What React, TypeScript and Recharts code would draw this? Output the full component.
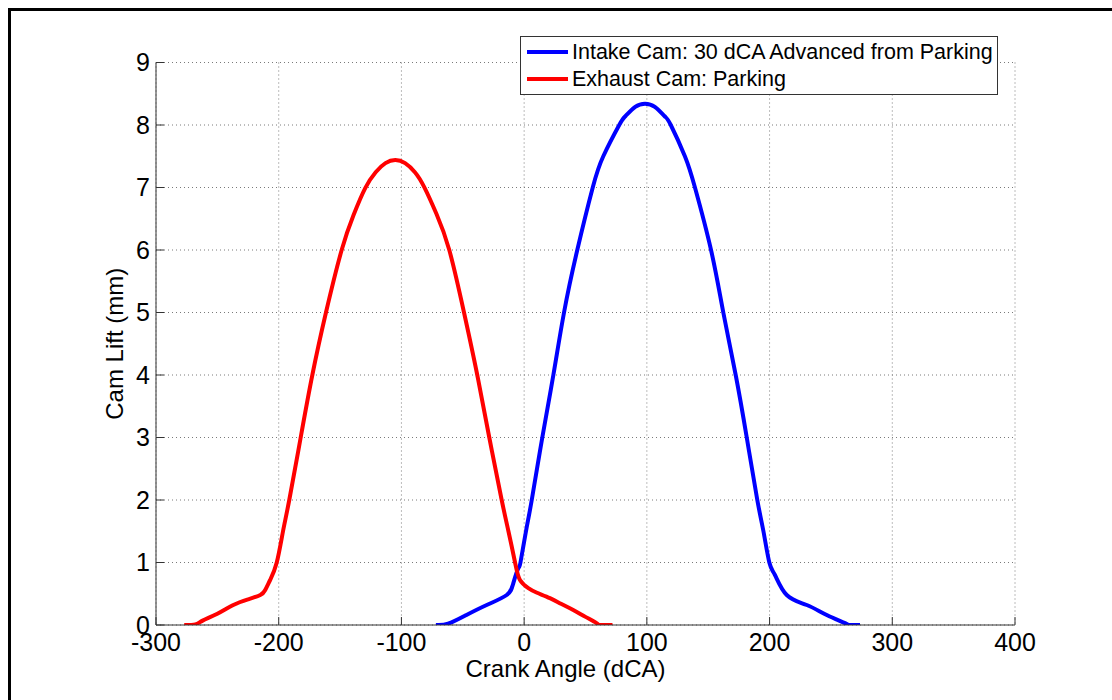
import React from 'react';
import { LineChart, Line, XAxis, YAxis, CartesianGrid, Legend } from 'recharts';

const intakeAngle = [-72, -62, -47, -30.5, -14.2, -8.8, -4.7, -3, 1.5, 6.2, 14.8, 23.8, 32.5, 43.3, 55.9, 64.5, 77.5, 82.5, 90.5, 98.5, 106.5, 114.5, 119.5, 131, 139.2, 152.3, 162.3, 172.4, 181.4, 190, 195, 199.8, 204.4, 214, 230.3, 246.6, 261.5, 265, 273.7];
const intakeLift = [0, 0.02, 0.16, 0.32, 0.48, 0.67, 0.91, 1, 1.5, 2, 3, 4, 5, 6, 7, 7.5, 8, 8.14, 8.29, 8.34, 8.29, 8.14, 8, 7.5, 7, 6, 5, 4, 3, 2, 1.5, 1, 0.8, 0.48, 0.32, 0.16, 0.03, 0, 0];

const exhaustAngle = [-277, -268, -262, -250, -237, -225, -215, -211, -207, -201.6, -196.5, -191.4, -182.1, -172.6, -161.5, -148.7, -139, -129.5, -121, -113, -105, -97, -89, -81.5, -71.5, -61, -49, -38.2, -28.4, -18.3, -12.8, -7.4, -3.4, 3.4, 10, 21, 30, 40, 50, 59, 62, 72];
const exhaustLift = [0, 0.01, 0.07, 0.18, 0.32, 0.41, 0.48, 0.56, 0.72, 1, 1.5, 2, 3, 4, 5, 6, 6.56, 6.99, 7.245, 7.39, 7.44, 7.39, 7.245, 7.01, 6.58, 6, 5, 4, 3, 2, 1.5, 1, 0.72, 0.59, 0.52, 0.43, 0.34, 0.24, 0.13, 0.03, 0, 0];

const xTicks = [-300, -200, -100, 0, 100, 200, 300, 400];
const yTicks = [0, 1, 2, 3, 4, 5, 6, 7, 8, 9];
const seriesNames = ['Intake Cam: 30 dCA Advanced from Parking', 'Exhaust Cam: Parking'];
const seriesColors = ['#0000ff', '#ff0000'];
const xLabel = 'Crank Angle (dCA)';
const yLabel = 'Cam Lift (mm)';

const intakeData = intakeAngle.map((x, i) => ({ x, y: intakeLift[i] }));
const exhaustData = exhaustAngle.map((x, i) => ({ x, y: exhaustLift[i] }));

const FONT = '"Liberation Sans", Arial, Helvetica, sans-serif';
const AXIS = '#333333';

const XLabelContent = (props: any) => {
  const vb = props.viewBox || {};
  return (
    <text x={vb.x + vb.width / 2 - 20} y={vb.y + 52} textAnchor="middle" fontFamily={FONT} fontSize={24} fill="#000">
      {xLabel}
    </text>
  );
};

const YLabelContent = (props: any) => {
  const vb = props.viewBox || {};
  const cx = vb.x + vb.width - 33;
  const cy = vb.y + vb.height / 2;
  return (
    <text x={cx} y={cy} transform={`rotate(-90 ${cx} ${cy})`} textAnchor="middle" fontFamily={FONT} fontSize={24} fill="#000">
      {yLabel}
    </text>
  );
};

const renderLegend = () => (
  <div
    style={{
      position: 'relative',
      boxSizing: 'border-box',
      width: 478,
      height: 59,
      border: '1px solid #333',
      background: '#fff',
      fontFamily: FONT,
      fontSize: 21.5,
      color: '#000',
    }}
  >
    {seriesNames.map((name, i) => (
      <div
        key={name}
        style={{
          position: 'absolute',
          left: 6,
          top: 2 + i * 26.6,
          height: 26.6,
          display: 'flex',
          alignItems: 'center',
          whiteSpace: 'nowrap',
        }}
      >
        <svg width={41} height={6} style={{ display: 'block' }}>
          <line x1={0} y1={3} x2={41} y2={3} stroke={seriesColors[i]} strokeWidth={4} />
        </svg>
        <span style={{ marginLeft: 4, lineHeight: '26.6px' }}>{name}</span>
      </div>
    ))}
  </div>
);

export default function App() {
  return (
    <div style={{ position: 'absolute', left: 0, top: 0, width: 1112, height: 700, background: '#fff', overflow: 'hidden' }}>
      <div
        style={{
          position: 'absolute',
          left: 8,
          top: 8,
          width: 1110,
          height: 700,
          boxSizing: 'border-box',
          borderTop: '3px solid #000',
          borderLeft: '3px solid #000',
          pointerEvents: 'none',
        }}
      />
      <div style={{ position: 'absolute', left: 0, top: 0 }}>
        <LineChart width={1112} height={700} margin={{ top: 62.5, right: 97, bottom: 25, left: 96 }}>
          <CartesianGrid stroke="#7a7a7a" strokeDasharray="1 3" strokeWidth={1} />
          <XAxis
            type="number"
            dataKey="x"
            domain={[-300, 400]}
            ticks={xTicks}
            interval={0}
            height={50}
            allowDataOverflow
            tickSize={-8}
            tickMargin={16}
            axisLine={{ stroke: AXIS, strokeWidth: 1 }}
            tickLine={{ stroke: AXIS, strokeWidth: 1 }}
            tick={{ fill: '#000', fontSize: 25, fontFamily: FONT }}
            label={XLabelContent}
          />
          <YAxis
            type="number"
            domain={[0, 9]}
            ticks={yTicks}
            interval={0}
            width={60}
            allowDataOverflow
            tickSize={-8}
            tickMargin={14}
            axisLine={{ stroke: AXIS, strokeWidth: 1 }}
            tickLine={{ stroke: AXIS, strokeWidth: 1 }}
            tick={{ fill: '#000', fontSize: 25, fontFamily: FONT }}
            label={YLabelContent}
          />
          <Legend
            layout="horizontal"
            verticalAlign="middle"
            align="center"
            wrapperStyle={{ left: 520, top: 36, width: 478, height: 59 }}
            content={renderLegend}
          />
          <Line
            data={intakeData}
            dataKey="y"
            name={seriesNames[0]}
            type="natural"
            stroke={seriesColors[0]}
            strokeWidth={4}
            dot={false}
            activeDot={false}
            isAnimationActive={false}
          />
          <Line
            data={exhaustData}
            dataKey="y"
            name={seriesNames[1]}
            type="natural"
            stroke={seriesColors[1]}
            strokeWidth={4}
            dot={false}
            activeDot={false}
            isAnimationActive={false}
          />
        </LineChart>
      </div>
    </div>
  );
}
